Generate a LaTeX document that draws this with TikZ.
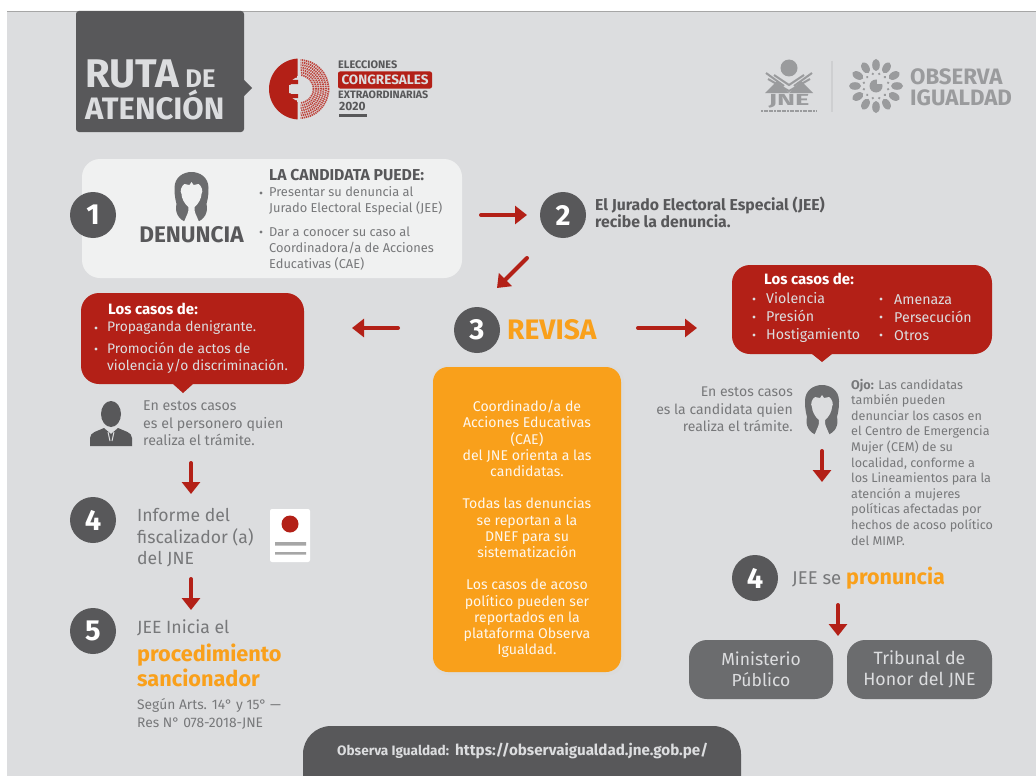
\documentclass[tikz,border=0pt]{standalone}
\usepackage{fontspec}
\setmainfont{Fira Sans}
\usetikzlibrary{arrows.meta}
\definecolor{bggray}{HTML}{DCDDDF}
\definecolor{darkg}{HTML}{58585A}
\definecolor{midg}{HTML}{6B6C6E}
\definecolor{textg}{HTML}{77787A}
\definecolor{logog}{HTML}{9A9B9D}
\definecolor{redc}{HTML}{B32017}
\definecolor{orangec}{HTML}{F9A01B}
\definecolor{panel}{HTML}{F0F1F1}
\newcommand{\fs}[2]{\fontsize{#1}{#2}\selectfont}
\tikzset{
  numdisc/.style={circle,fill=darkg,text=white,minimum size=46pt,inner sep=0pt,font=\fs{29}{30}\bfseries},
  redarrow/.style={draw=redc,line width=4pt,line cap=round,-{Triangle[length=12pt,width=18pt]}},
  txt/.style={inner sep=0pt,anchor=west,align=left,text=textg},
  box/.style={inner sep=0pt,rounded corners=#1},
  box/.default=18pt,
  hl/.style={inner sep=0pt,anchor=west,text=orangec,font=\fs{21.5}{25}\bfseries},
}
\newcommand{\womanicon}[3]{%
  \begin{scope}[shift={(#1,#2)}]
    \fill[midg] (-5,25) .. controls (-13,23) and (-17,15) .. (-15,7)
      .. controls (-17,0) and (-17,-6) .. (-17,-9)
      .. controls (-17,-20) and (-8,-25) .. (0,-25)
      .. controls (8,-25) and (17,-20) .. (17,-9)
      .. controls (17,-6) and (17,0) .. (15,7)
      .. controls (17,15) and (13,23) .. (5,25) -- cycle;
    \fill[#3] (-8,26) -- (-5,19) .. controls (-3,15) and (-3,13) .. (-3,10)
      .. controls (-7,7) and (-10,1) .. (-10,-3)
      .. controls (-12,-6) and (-10,-11) .. (-7,-13)
      -- (-2,-12) -- (0,-15) -- (2,-12) -- (7,-13)
      .. controls (10,-11) and (12,-6) .. (10,-3)
      .. controls (10,1) and (7,7) .. (3,10)
      .. controls (3,13) and (3,15) .. (5,19) -- (8,26) -- cycle;
  \end{scope}}
\begin{document}
\begin{tikzpicture}[x=1pt,y=-1pt]
\useasboundingbox (0,0) rectangle (1036,776);
\fill[white] (0,0) rectangle (1036,776);
\fill[bggray] (7,11) rectangle (1036,776);
\draw[gray!70,line width=0.8pt] (7,11) -- (1036,11);

% title
\node[fill=darkg,rounded corners=3pt,minimum width=168pt,minimum height=121pt,inner sep=0pt] (title) at (160,71.5) {};
\fill[darkg] (244,80) -- (252,88) -- (244,96) -- cycle;
\node[inner sep=0pt,anchor=west,align=left,text=bggray,font=\bfseries] (ruta) at (85,90) {\fs{40}{28}RUTA\,\fs{25.5}{28}DE\\\fs{31}{28}ATENCIÓN};

% elections logo
\begin{scope}
  \clip (268,58) rectangle (297.5,120);
  \fill[redc] (299.5,89) circle[radius=30.5pt];
\end{scope}
\begin{scope}
  \clip (300.5,58) rectangle (332,120);
  \foreach \r in {14,16.5,19,21.5,24,26.5,29}
    \draw[redc!85!white,line width=1.8pt,dash pattern=on 1.3pt off 0.8pt] (299.5,89) circle[radius=\r pt];
\end{scope}
\fill[bggray] (300,89) circle[radius=12pt];
\fill[bggray] (297,76) rectangle (301,102);
\fill[redc] (286,80) -- (298,80) -- (298,84) -- (291,84) -- (288,87) -- (288,91) -- (291,94) -- (298,94) -- (298,98) -- (286,98) -- cycle;
\fill[redc] (286,80) rectangle (289,98);
\fill[bggray] (289,85) rectangle (295,86.5) (289,91.5) rectangle (295,93);
\node[inner sep=0pt,anchor=west,text=darkg,font=\fs{10.9}{11}\bfseries] (elec) at (338,65) {ELECCIONES};
\node[fill=redc,rounded corners=2pt,text=bggray,inner sep=0pt,minimum width=94pt,minimum height=17pt,font=\fs{13.5}{14}\bfseries] (cong) at (385,80) {CONGRESALES};
\node[inner sep=0pt,anchor=west,text=darkg,font=\fs{10.7}{11}\bfseries] (extra) at (338,95) {EXTRAORDINARIAS};
\node[inner sep=0pt,anchor=west,text=darkg,font=\fs{12}{13}\bfseries] (anio) at (339,106) {2020};
\fill[darkg] (339,114) rectangle (367,117);

% JNE logo
\fill[logog] (789,68) circle[radius=8.5pt];
\draw[logog,line width=2pt] (766,73) -- (784,86) (812,73) -- (794,86);
\draw[logog,line width=2pt] (768,79) -- (789,91) -- (810,79);
\draw[logog,line width=2pt] (774,75) -- (789,85) -- (804,75);
\fill[logog] (765,93) -- (777,81) -- (789,93) -- cycle;
\fill[logog] (789,93) -- (801,81) -- (813,93) -- cycle;
\node[inner sep=0pt,text=logog,font=\fs{16}{17}\bfseries,xscale=1.7] (jne) at (789,101) {JNE};
\draw[logog,line width=1.5pt,dash pattern=on 2pt off .6pt] (761,111) -- (817,111);
\draw[bggray!85!gray,line width=1.5pt] (832,61) -- (832,112);
\begin{scope}[shift={(876,86)}]
  \foreach \a in {0,30,...,330} {
    \fill[logog,rotate=\a] (21,0) ellipse[x radius=6pt,y radius=3.8pt];
    \fill[logog,rotate=\a+15] (12.5,0) circle[radius=1.3pt];
  }
  \fill[logog] (0,0) circle[radius=6.5pt];
  \fill[bggray] (1,-2) rectangle (7,-7);
\end{scope}
\node[inner sep=0pt,anchor=west,text=logog,align=left,font=\fs{22.3}{21}\bfseries] (obs) at (910,87) {OBSERVA\\IGUALDAD};

% step 1
\node[box,fill=panel,minimum width=380pt,minimum height=119pt] (panel1) at (272,218.5) {};
\node[numdisc] (n1) at (93,215) {1};
\womanicon{191.5}{197}{panel}
\node[inner sep=0pt,text=darkg,font=\fs{22.6}{25}\bfseries] (den) at (191.5,235) {DENUNCIA};
\node[txt,text=darkg,font=\fs{15.8}{16}\bfseries] (cand) at (269,175) {LA CANDIDATA PUEDE:};
\node[txt,font=\fs{12.85}{16.3}] (c1) at (269,201) {Presentar su denuncia al\\Jurado Electoral Especial (JEE)};
\node[txt,font=\fs{12.85}{16.3}] (c2) at (269,248.5) {Dar a conocer su caso al\\Coordinadora/a de Acciones\\Educativas (CAE)};
\fill[textg] (261,193) circle[radius=1.6pt] (261,232) circle[radius=1.6pt];

% step 2
\coordinate (a1s) at (481,215); \coordinate (a1e) at (527,215);
\draw[redarrow] (a1s) -- (a1e);
\node[numdisc] (n2) at (563,215) {2};
\node[txt,text=darkg,font=\fs{15.8}{16}\bfseries] (t2) at (595,212.5) {El Jurado Electoral Especial (JEE)\\recibe la denuncia.};
\coordinate (a2s) at (527,258); \coordinate (a2e) at (497,288);
\draw[redarrow] (a2s) -- (a2e);

% step 3
\node[numdisc] (n3) at (477,330) {3};
\node[hl,font=\fs{28.2}{29}\bfseries] (rev) at (507,330) {REVISA};
\coordinate (a3s) at (398,328); \coordinate (a3e) at (352,328);
\draw[redarrow] (a3s) -- (a3e);
\coordinate (a4s) at (638,328); \coordinate (a4e) at (697,328);
\draw[redarrow] (a4s) -- (a4e);
\fill[gray!28,rounded corners=16pt] (432,365.5) rectangle (624,675);
\node[box=15pt,fill=orangec,minimum width=188pt,minimum height=305pt] (orange) at (527,519.5) {};
\node[inner sep=0pt,align=center,text=white!92!orangec,font=\fs{14.1}{16.2}] (orangetxt) at (527,529) {Coordinado/a de\\Acciones Educativas\\(CAE)\\del JNE orienta a las\\candidatas.\\[16.2pt]Todas las denuncias\\se reportan a la\\DNEF para su\\sistematización\\[16.2pt]Los casos de acoso\\político pueden ser\\reportados en la\\plataforma Observa\\Igualdad.};

% left branch
\node[box,fill=redc,minimum width=223pt,minimum height=91pt] (redl) at (192.5,338.5) {};
\fill[redc] (173,384) -- (193,384) -- (183,393) -- cycle;
\node[txt,text=white,font=\fs{15}{16}\bfseries] (rl0) at (108,309) {Los casos de:};
\node[txt,text=bggray,font=\fs{13.8}{17}] (rl1) at (107,328) {Propaganda denigrante.};
\node[txt,text=bggray,font=\fs{13.8}{17}] (rl2) at (107,357.5) {Promoción de actos de\\violencia y/o discriminación.};
\fill[bggray] (96,328) circle[radius=1.6pt] (96,349) circle[radius=1.6pt];
\fill[darkg] (111,414) ellipse[x radius=10pt,y radius=13pt];
\fill[darkg] (90,446) -- (90,438) .. controls (90,432) and (98,431) .. (104,428) -- (111,434) -- (118,428) .. controls (124,431) and (132,432) .. (132,438) -- (132,446) -- cycle;
\draw[bggray,line width=1pt] (108,432) -- (110,441) (114,432) -- (112,441);
\node[txt,font=\fs{14.2}{17.5}] (per) at (143,423.5) {En estos casos\\es el personero quien\\realiza el trámite.};
\coordinate (a5s) at (191,463); \coordinate (a5e) at (191,494);
\draw[redarrow] (a5s) -- (a5e);
\node[numdisc] (n4l) at (93,520) {4};
\node[txt,font=\fs{17.6}{21.5}] (inf) at (137,538) {Informe del\\fiscalizador (a)\\del JNE};
\node[fill=white,rounded corners=2pt,minimum width=40pt,minimum height=53pt,inner sep=0pt] (card) at (290,535.5) {};
\fill[redc] (290,524) circle[radius=8.5pt];
\fill[gray!70] (275,542) rectangle (306,545.5) (275,552) rectangle (306,554.5);
\coordinate (a6s) at (191,579); \coordinate (a6e) at (191,610);
\draw[redarrow] (a6s) -- (a6e);
\node[numdisc] (n5) at (93,631) {5};
\node[txt,font=\fs{17.7}{21}] (jee) at (137,628) {JEE Inicia el};
\node[hl,font=\fs{21.7}{25}\bfseries,align=left] (proc) at (137,665.5) {procedimiento\\sancionador};
\node[txt,font=\fs{13.8}{18}] (art) at (137,714) {Según Arts. 14° y 15° —\\Res N° 078-2018-JNE};

% right branch
\node[box,fill=redc,minimum width=260pt,minimum height=89pt] (redr) at (862,309.5) {};
\fill[redc] (812,354) -- (832,354) -- (822,362) -- cycle;
\node[txt,text=white,font=\fs{15}{16}\bfseries] (rr0) at (764,279) {Los casos de:};
\node[txt,text=bggray,font=\fs{14.2}{17.8}] (rr1) at (766,317.5) {Violencia\\Presión\\Hostigamiento};
\node[txt,text=bggray,font=\fs{14.2}{17.8}] (rr2) at (894,317.5) {Amenaza\\Persecución\\Otros};
\fill[bggray] (754,299) circle[radius=1.6pt] (754,317) circle[radius=1.6pt] (754,335) circle[radius=1.6pt]
  (881,299) circle[radius=1.6pt] (881,317) circle[radius=1.6pt] (881,335) circle[radius=1.6pt];
\node[inner sep=0pt,anchor=east,align=right,text=textg,font=\fs{14}{17.5}] (quien) at (793,409.5) {En estos casos\\es la candidata quien\\realiza el trámite.};
\womanicon{822}{410}{bggray}
\coordinate (a7s) at (822,451); \coordinate (a7e) at (822,482);
\draw[redarrow] (a7s) -- (a7e);
\node[txt,font=\fs{12.6}{15.6}] (ojo) at (851,462) {\textbf{Ojo:} Las candidatas\\también pueden\\denunciar los casos en\\el Centro de Emergencia\\Mujer (CEM) de su\\localidad, conforme a\\los Lineamientos para la\\atención a mujeres\\políticas afectadas por\\hechos de acoso político\\del MIMP.};
\node[numdisc] (n4r) at (755,578) {4};
\node[txt,font=\fs{18.5}{21}] (jeese) at (792,579) {JEE se};
\node[hl] (pron) at (846,578) {pronuncia};
\coordinate (a8s) at (838,605); \coordinate (a8e) at (838,636);
\draw[redarrow] (a8s) -- (a8e);
\node[box,fill=midg,minimum width=144pt,minimum height=59pt,align=center,text=bggray,font=\fs{17.5}{21}] (mp) at (761,669.5) {Ministerio\\Público};
\node[box,fill=midg,minimum width=145pt,minimum height=59pt,align=center,text=bggray,font=\fs{17.8}{21}] (th) at (919.5,669.5) {Tribunal de\\Honor del JNE};

% bottom bar
\fill[darkg] (303,776) [rounded corners=28pt] -- (303,726) -- (741,726) [sharp corners] -- (741,776) -- cycle;
\node[inner sep=0pt,anchor=base west,text=bggray,font=\fs{13.6}{14}\bfseries] (ob1) at (337,755) {Observa Igualdad:};
\node[inner sep=0pt,anchor=base west,text=bggray,font=\fs{15.2}{18}\bfseries] (ob2) at (455,755) {https://observaigualdad.jne.gob.pe/};
\end{tikzpicture}
\end{document}
